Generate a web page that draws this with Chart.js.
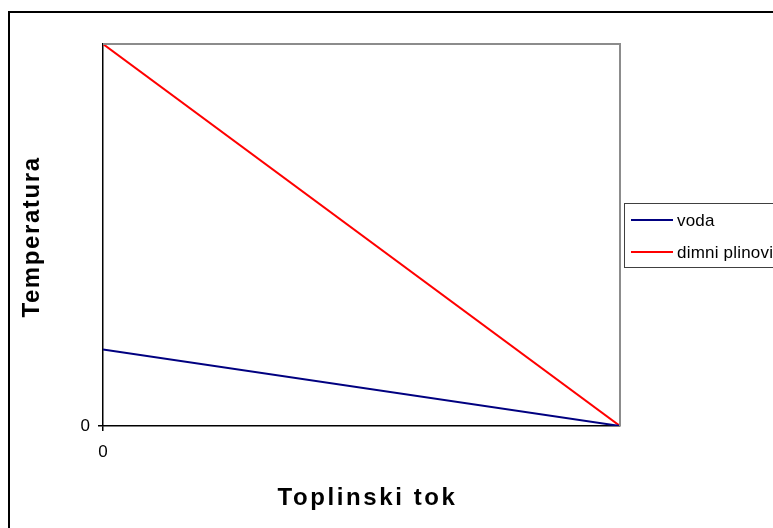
<!DOCTYPE html>
<html>
<head>
<meta charset="utf-8">
<script src="https://cdn.jsdelivr.net/npm/chart.js@4.4.1/dist/chart.umd.min.js"></script>
<style>
  html, body { margin: 0; padding: 0; background: #fff; }
  canvas { display: block; }
</style>
</head>
<body>
<canvas id="tempChart" width="773" height="528"></canvas>
<script>
// Chart data
const heatFlow = [0, 1];
const waterTemp = [20, 0];
const fluegasTemp = [100, 0];
const seriesNames = ['voda', 'dimni plinovi'];
const seriesColors = ['#000080', '#ff0000'];
const xTickLabels = ['0'];
const yTickLabels = ['0'];

const FONT = "'Liberation Sans', Arial, sans-serif";

// Excel titles are drawn a bit wider, so add letter spacing to the axis titles
function spacedTitle(spacing, dx, dy) {
  return function(scale) {
    if (scale._spaced || typeof scale.drawTitle !== 'function') return;
    const orig = scale.drawTitle;
    scale.drawTitle = function() {
      const c = this.ctx;
      c.save();
      c.letterSpacing = spacing;
      c.translate(dx, dy);
      orig.call(this);
      c.restore();
    };
    scale._spaced = true;
  };
}

// Frame, plot border and legend (Excel style)
const framePlugin = {
  id: 'frame',
  beforeDraw(chart) {
    const ctx = chart.ctx;
    ctx.save();
    ctx.fillStyle = '#fff';
    ctx.fillRect(0, 0, chart.width, chart.height);
    ctx.restore();
  },
  afterDraw(chart) {
    const ctx = chart.ctx;
    const a = chart.chartArea;
    ctx.save();
    // gray top/right border of plot area
    ctx.strokeStyle = '#8c8c8c';
    ctx.lineWidth = 2;
    ctx.beginPath();
    ctx.moveTo(a.left, a.top);
    ctx.lineTo(a.right, a.top);
    ctx.lineTo(a.right, a.bottom);
    ctx.stroke();

    // outer chart border
    ctx.strokeStyle = '#000';
    ctx.lineWidth = 2;
    ctx.strokeRect(9, 12, 900, 700);

    // legend
    const lx = 624, ly = 203;
    ctx.fillStyle = '#fff';
    ctx.fillRect(lx, ly, 200, 64);
    ctx.strokeStyle = '#404040';
    ctx.lineWidth = 1;
    ctx.strokeRect(lx + 0.5, ly + 0.5, 200, 64);
    ctx.font = '17px ' + FONT;
    ctx.letterSpacing = '0.2px';
    ctx.textBaseline = 'middle';
    chart.data.datasets.forEach((ds, i) => {
      const y = ly + 17 + i * 32;
      ctx.strokeStyle = ds.borderColor;
      ctx.lineWidth = 2;
      ctx.beginPath();
      ctx.moveTo(631, y);
      ctx.lineTo(673, y);
      ctx.stroke();
      ctx.fillStyle = '#000';
      ctx.fillText(ds.label, 677, y + 1);
    });
    ctx.restore();
  }
};

const ctx = document.getElementById('tempChart').getContext('2d');
new Chart(ctx, {
  type: 'line',
  data: {
    datasets: [
      {
        label: seriesNames[0],
        data: heatFlow.map((x, i) => ({ x: x, y: waterTemp[i] })),
        borderColor: seriesColors[0],
        borderWidth: 2,
        pointRadius: 0,
        fill: false
      },
      {
        label: seriesNames[1],
        data: heatFlow.map((x, i) => ({ x: x, y: fluegasTemp[i] })),
        borderColor: seriesColors[1],
        borderWidth: 2,
        pointRadius: 0,
        fill: false
      }
    ]
  },
  options: {
    responsive: false,
    animation: false,
    layout: { padding: { left: 18, top: 44, right: 153, bottom: 17 } },
    plugins: {
      legend: { display: false },
      tooltip: { enabled: false }
    },
    scales: {
      x: {
        type: 'linear',
        min: 0,
        max: 1,
        afterUpdate: spacedTitle('2.6px', 6, 2),
        afterFit(scale) { scale.height = 85; },
        afterBuildTicks(scale) { scale.ticks = [{ value: 0 }]; },
        grid: { drawOnChartArea: false, tickLength: 5, color: '#000', lineWidth: 1.5 },
        border: { color: '#000', width: 1.5 },
        ticks: {
          color: '#000',
          padding: 11,
          font: { family: FONT, size: 17 },
          callback: (v, i) => xTickLabels[i]
        },
        title: {
          display: true,
          text: 'Toplinski tok',
          color: '#000',
          padding: 0,
          font: { family: FONT, size: 24, weight: 'bold' }
        }
      },
      y: {
        type: 'linear',
        min: 0,
        max: 100,
        afterUpdate: spacedTitle('1.6px', 0, 2),
        afterFit(scale) { scale.width = 85; },
        afterBuildTicks(scale) { scale.ticks = [{ value: 0 }]; },
        grid: { drawOnChartArea: false, tickLength: 5, color: '#000', lineWidth: 1.5 },
        border: { color: '#000', width: 1.5 },
        ticks: {
          color: '#000',
          padding: 8,
          font: { family: FONT, size: 17 },
          callback: (v, i) => yTickLabels[i]
        },
        title: {
          display: true,
          text: 'Temperatura',
          color: '#000',
          padding: 0,
          font: { family: FONT, size: 24, weight: 'bold' }
        }
      }
    }
  },
  plugins: [framePlugin]
});
</script>
</body>
</html>
